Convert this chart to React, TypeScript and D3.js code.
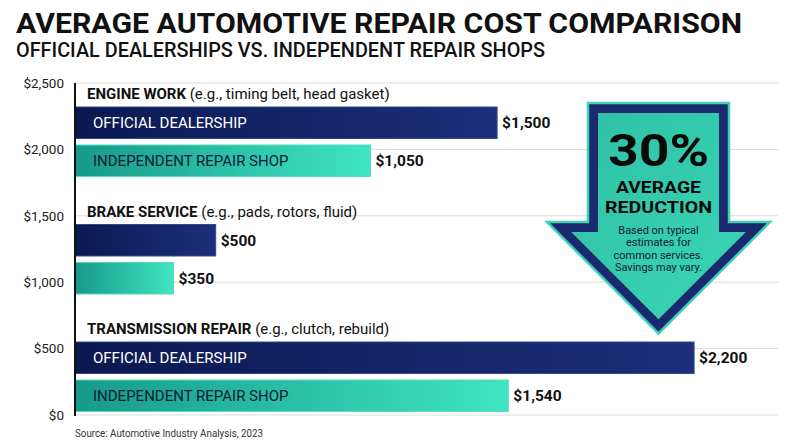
import React from "react";
import * as d3 from "d3";

const categories = ["ENGINE WORK", "BRAKE SERVICE", "TRANSMISSION REPAIR"];
const categoryNotes = ["(e.g., timing belt, head gasket)", "(e.g., pads, rotors, fluid)", "(e.g., clutch, rebuild)"];
const seriesNames = ["OFFICIAL DEALERSHIP", "INDEPENDENT REPAIR SHOP"];
const dealershipCosts = [1500, 500, 2200];
const independentCosts = [1050, 350, 1540];
const yTicks = [0, 500, 1000, 1500, 2000, 2500];
const title = "AVERAGE AUTOMOTIVE REPAIR COST COMPARISON";
const subtitle = "OFFICIAL DEALERSHIPS VS. INDEPENDENT REPAIR SHOPS";
const source = "Source: Automotive Industry Analysis, 2023";
const calloutBig = "30%";
const calloutLines = ["AVERAGE", "REDUCTION"];
const calloutNote = ["Based on typical", "estimates for", "common services.", "Savings may vary."];

const W = 800;
const H = 447;
const FONT = "Roboto, 'Noto Sans', sans-serif";

export default function App() {
  const x = d3.scaleLinear().domain([0, 2500]).range([75, 778.5]);
  const yAxis = d3.scaleLinear().domain([0, 2500]).range([415, 83]);
  const group = d3.scaleBand<string>().domain(categories).range([85, 437.5]).paddingInner(0);
  const inner = d3.scaleBand<string>().domain(seriesNames).range([22, 91.5]).paddingInner(0.171).paddingOuter(0);
  const fmt = d3.format("$,");

  const series = [dealershipCosts, independentCosts];
  const fills = ["url(#gradDealer)", "url(#gradIndep)"];
  const strokes = ["#2d4a8f", "#55dcc2"];

  // callout arrow geometry
  const cx = 658.5;
  const shaftHalf = 70.5;
  const headHalf = 111.5;
  const top = 103;
  const headY = 222;
  const tipY = headY + headHalf;
  const b = 10;
  const outer: [number, number][] = [
    [cx - shaftHalf, top], [cx + shaftHalf, top], [cx + shaftHalf, headY], [cx + headHalf, headY],
    [cx, tipY], [cx - headHalf, headY], [cx - shaftHalf, headY],
  ];
  const innerTip = tipY - b * Math.SQRT2;
  const innerPts: [number, number][] = [
    [cx - shaftHalf + b, top + b], [cx + shaftHalf - b, top + b], [cx + shaftHalf - b, headY + b],
    [cx + (innerTip - (headY + b)), headY + b], [cx, innerTip],
    [cx - (innerTip - (headY + b)), headY + b], [cx - shaftHalf + b, headY + b],
  ];
  const line = d3.line();

  return (
    <svg width={W} height={H} style={{ display: "block", position: "absolute", left: 0, top: 0, background: "#fff" }} fontFamily={FONT}>
      <defs>
        <linearGradient id="gradDealer" x1="0" x2="1" y1="0" y2="0">
          <stop offset="0" stopColor="#0b1850" />
          <stop offset="1" stopColor="#1d2f7c" />
        </linearGradient>
        <linearGradient id="gradIndep" x1="0" x2="1" y1="0" y2="0">
          <stop offset="0" stopColor="#179a89" />
          <stop offset="1" stopColor="#3fe5c2" />
        </linearGradient>
        <linearGradient id="gradArrow" x1="0" x2="1" y1="0" y2="1">
          <stop offset="0" stopColor="#2fc0a6" />
          <stop offset="1" stopColor="#3ad6b6" />
        </linearGradient>
      </defs>
      <rect width={W} height={H} fill="#fff" />

      <text x={16} y={33} fontSize={28.5} fontWeight={700} fill="#111" textLength={726} lengthAdjust="spacingAndGlyphs">{title}</text>
      <text x={16} y={56.5} fontSize={19.5} fontWeight={500} fill="#111" textLength={529} lengthAdjust="spacingAndGlyphs">{subtitle}</text>

      {yTicks.map((t) => (
        <g key={t}>
          <line x1={x(0)} x2={x(2500)} y1={yAxis(t)} y2={yAxis(t)} stroke="#dcdcdc" strokeWidth={1} />
          <text x={64} y={yAxis(t)} dy="0.35em" textAnchor="end" fontSize={13.5} fill="#222">{fmt(t)}</text>
        </g>
      ))}

      {categories.map((c, i) => {
        const g0 = group(c) as number;
        return (
          <g key={c}>
            <text x={87} y={g0 + 14} fontSize={15} fill="#111">
              <tspan fontWeight={700}>{c}</tspan>
              <tspan> {categoryNotes[i]}</tspan>
            </text>
            {seriesNames.map((s, j) => {
              const v = series[j][i];
              const y0 = g0 + (inner(s) as number);
              const bw = inner.bandwidth();
              const wBar = x(v) - x(0);
              return (
                <g key={s}>
                  <rect x={x(0)} y={y0} width={wBar} height={bw} fill={fills[j]} stroke={strokes[j]} strokeWidth={1} />
                  {wBar > 230 && (
                    <text x={93} y={y0 + bw / 2} dy="0.36em" fontSize={15} fill={j === 0 ? "#fff" : "#0d1a3a"}>{s}</text>
                  )}
                  <text x={x(v) + 5} y={y0 + bw / 2} dy="0.36em" fontSize={15.5} fontWeight={700} fill="#111">{fmt(v)}</text>
                </g>
              );
            })}
          </g>
        );
      })}

      <line x1={75} x2={75} y1={83} y2={416} stroke="#111" strokeWidth={2} />

      <text x={75} y={437} fontSize={11} fill="#333" textLength={188} lengthAdjust="spacingAndGlyphs">{source}</text>

      <path d={(line(outer) as string) + "Z"} fill="#1a2a6e" stroke="#3fd0b5" strokeWidth={2.5} strokeLinejoin="miter" />
      <path d={(line(innerPts) as string) + "Z"} fill="url(#gradArrow)" />
      <text x={cx} y={166} textAnchor="middle" fontSize={45} fontWeight={700} fill="#0a0a0a" textLength={101} lengthAdjust="spacingAndGlyphs">{calloutBig}</text>
      <text x={cx} y={192.5} textAnchor="middle" fontSize={17} fontWeight={700} fill="#0a0a0a" textLength={85} lengthAdjust="spacingAndGlyphs">{calloutLines[0]}</text>
      <text x={cx} y={212.5} textAnchor="middle" fontSize={17} fontWeight={700} fill="#0a0a0a" textLength={107} lengthAdjust="spacingAndGlyphs">{calloutLines[1]}</text>
      {calloutNote.map((t, k) => (
        <text key={k} x={cx} y={234 + k * 12.4} textAnchor="middle" fontSize={11} fill="#13203a">{t}</text>
      ))}
    </svg>
  );
}
